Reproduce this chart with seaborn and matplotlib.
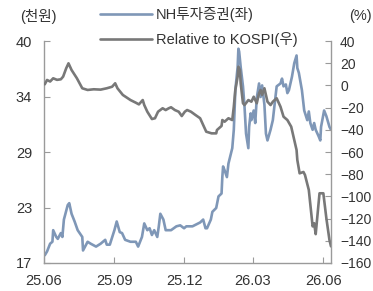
import matplotlib
matplotlib.use("Agg")
import matplotlib.pyplot as plt
import matplotlib.dates as mdates
import pandas as pd
import seaborn as sns

# NH투자증권 주가 (천원, 좌축)
nh_dates = ['2025-06-02', '2025-06-05', '2025-06-09', '2025-06-12', '2025-06-13', '2025-06-17',
            '2025-06-19', '2025-06-23', '2025-06-25', '2025-06-27', '2025-07-02', '2025-07-04',
            '2025-07-07', '2025-07-11', '2025-07-15', '2025-07-21', '2025-07-22', '2025-07-28',
            '2025-08-01', '2025-08-08', '2025-08-14', '2025-08-20', '2025-08-22', '2025-08-26',
            '2025-09-01', '2025-09-04', '2025-09-08', '2025-09-11', '2025-09-15', '2025-09-22',
            '2025-09-29', '2025-10-02', '2025-10-07', '2025-10-10', '2025-10-14', '2025-10-17',
            '2025-10-20', '2025-10-23', '2025-10-27', '2025-10-29', '2025-10-31', '2025-11-04',
            '2025-11-07', '2025-11-14', '2025-11-21', '2025-11-26', '2025-12-01', '2025-12-04',
            '2025-12-12', '2025-12-22', '2025-12-26', '2025-12-29', '2025-12-31', '2026-01-05',
            '2026-01-07', '2026-01-12', '2026-01-15', '2026-01-19', '2026-01-20', '2026-01-21',
            '2026-01-23', '2026-01-26', '2026-01-28', '2026-02-02', '2026-02-04', '2026-02-05',
            '2026-02-06', '2026-02-09', '2026-02-10', '2026-02-11', '2026-02-13', '2026-02-16',
            '2026-02-18', '2026-02-20', '2026-02-23', '2026-02-24', '2026-02-26', '2026-02-27',
            '2026-03-02', '2026-03-04', '2026-03-06', '2026-03-09', '2026-03-11', '2026-03-13',
            '2026-03-16', '2026-03-18', '2026-03-20', '2026-03-24', '2026-03-27', '2026-04-01',
            '2026-04-06', '2026-04-08', '2026-04-10', '2026-04-13', '2026-04-15', '2026-04-17',
            '2026-04-21', '2026-04-24', '2026-04-27', '2026-04-28', '2026-04-30', '2026-05-04',
            '2026-05-07', '2026-05-11', '2026-05-13', '2026-05-15', '2026-05-18', '2026-05-20',
            '2026-05-22', '2026-05-26', '2026-05-28', '2026-05-29', '2026-06-02', '2026-06-05',
            '2026-06-09', '2026-06-11']
nh_price = [17.8, 18.2, 19.0, 19.2, 20.4, 19.7,
            19.5, 20.1, 19.7, 21.5, 23.0, 23.2,
            22.1, 21.3, 20.4, 19.7, 18.3, 19.2,
            19.0, 18.7, 19.0, 19.4, 18.9, 18.9,
            20.4, 21.3, 20.2, 20.1, 19.4, 19.2,
            19.2, 18.7, 19.7, 21.1, 20.4, 20.6,
            19.9, 20.4, 19.7, 20.8, 22.1, 21.5,
            20.4, 20.4, 20.8, 20.9, 20.6, 20.8,
            20.8, 21.2, 21.5, 20.6, 20.6, 21.5,
            22.3, 22.7, 23.9, 24.2, 25.9, 27.0,
            26.6, 25.9, 27.3, 28.9, 30.8, 32.8,
            34.9, 37.3, 39.2, 38.9, 37.3, 35.3,
            33.2, 30.4, 28.9, 31.1, 32.5, 31.8,
            32.8, 31.5, 34.1, 35.6, 34.2, 35.4,
            33.4, 30.4, 29.7, 30.8, 31.8, 35.3,
            35.6, 36.1, 35.3, 35.5, 34.6, 34.9,
            36.3, 37.7, 38.5, 37.2, 36.7, 34.9,
            32.8, 31.8, 32.7, 31.5, 30.8, 31.5,
            30.8, 30.1, 29.7, 31.1, 32.8, 32.2,
            31.1, 30.8]

# Relative to KOSPI (%, 우축)
rel_dates = ['2025-06-02', '2025-06-05', '2025-06-09', '2025-06-13', '2025-06-18', '2025-06-23',
             '2025-06-26', '2025-06-30', '2025-07-03', '2025-07-07', '2025-07-14', '2025-07-21',
             '2025-07-28', '2025-08-05', '2025-08-14', '2025-08-22', '2025-08-29', '2025-09-02',
             '2025-09-05', '2025-09-12', '2025-09-22', '2025-09-29', '2025-10-03', '2025-10-08',
             '2025-10-10', '2025-10-14', '2025-10-20', '2025-10-24', '2025-10-28', '2025-11-03',
             '2025-11-07', '2025-11-11', '2025-11-14', '2025-11-19', '2025-11-24', '2025-11-28',
             '2025-12-02', '2025-12-05', '2025-12-10', '2025-12-16', '2025-12-22', '2025-12-26',
             '2025-12-30', '2026-01-06', '2026-01-12', '2026-01-13', '2026-01-19', '2026-01-20',
             '2026-01-23', '2026-01-28', '2026-02-02', '2026-02-04', '2026-02-06', '2026-02-09',
             '2026-02-10', '2026-02-12', '2026-02-13', '2026-02-16', '2026-02-18', '2026-02-23',
             '2026-02-27', '2026-03-02', '2026-03-06', '2026-03-09', '2026-03-11', '2026-03-13',
             '2026-03-16', '2026-03-20', '2026-03-24', '2026-03-27', '2026-04-01', '2026-04-06',
             '2026-04-10', '2026-04-15', '2026-04-20', '2026-04-23', '2026-04-27', '2026-04-28',
             '2026-05-01', '2026-05-06', '2026-05-08', '2026-05-13', '2026-05-18', '2026-05-20',
             '2026-05-22', '2026-05-27', '2026-06-01', '2026-06-05', '2026-06-09', '2026-06-11']
rel_kospi = [1.0, 4.9, 3.5, 6.4, 5.0, 5.5,
             7.9, 15.4, 19.9, 13.9, 6.4, -2.6,
             -4.1, -3.5, -3.8, -2.6, -1.2, 1.9,
             -2.6, -8.6, -13.2, -15.6, -17.1, -13.2,
             -17.7, -23.7, -30.3, -29.6, -23.7, -20.6,
             -22.2, -20.6, -19.7, -22.2, -23.7, -27.6,
             -23.7, -22.2, -23.7, -26.7, -29.6, -35.7,
             -41.7, -43.2, -43.2, -40.2, -36.5, -31.2,
             -32.7, -29.6, -31.2, -19.2, -4.1, 7.8,
             16.8, 13.9, 1.9, -16.1, -17.7, -13.2,
             -14.7, -10.2, -16.1, -7.1, -4.1, -8.6,
             -2.6, -14.7, -17.7, -14.7, -11.6, -19.2,
             -28.2, -31.2, -37.2, -46.2, -58.2, -67.2,
             -79.2, -78.0, -80.7, -94.2, -127.0, -124.2,
             -134.0, -97.2, -97.2, -120.0, -139.3, -145.0]

left_ticks = [17, 22.75, 28.5, 34.25, 40]
left_tick_labels = ['17', '23', '29', '34', '40']
right_ticks = [40, 20, 0, -20, -40, -60, -80, -100, -120, -140, -160]
x_ticks = ['2025-06-01', '2025-09-01', '2025-12-01', '2026-03-01', '2026-06-01']

blue = '#7f97b7'
gray = '#787878'
axis_col = '#9a9a9a'
text_col = '#333333'

sns.set_style('ticks')
plt.rcParams['font.family'] = ['Liberation Sans', 'Noto Sans CJK KR']
plt.rcParams['font.size'] = 10.5

nh = pd.DataFrame({'date': pd.to_datetime(nh_dates), 'price': nh_price})
rel = pd.DataFrame({'date': pd.to_datetime(rel_dates), 'rel': rel_kospi})

fig = plt.figure(figsize=(3.73, 2.91), dpi=100)
ax = fig.add_axes([44 / 373, 1 - 263 / 291, 287 / 373, 222 / 291])
ax2 = ax.twinx()

sns.lineplot(data=nh, x='date', y='price', ax=ax, color=blue, linewidth=1.9)
sns.lineplot(data=rel, x='date', y='rel', ax=ax2, color=gray, linewidth=1.9)

ax.set_xlim(nh['date'].min(), nh['date'].max())
ax.set_ylim(17, 40)
ax2.set_ylim(-160, 40)
ax.set_yticks(left_ticks)
ax.set_yticklabels(left_tick_labels)
ax2.set_yticks(right_ticks)
ax.set_xticks(pd.to_datetime(x_ticks))
ax.xaxis.set_major_formatter(mdates.DateFormatter('%y.%m'))
ax.set_xlabel('')
ax.set_ylabel('')
ax2.set_ylabel('')

for a in (ax, ax2):
    for side in ('left', 'right', 'bottom'):
        a.spines[side].set_color(axis_col)
        a.spines[side].set_linewidth(1.0)
    a.spines['top'].set_visible(False)
    a.tick_params(direction='in', length=4, width=0.8, color=axis_col,
                  labelcolor=text_col, labelsize=10.5)
ax.spines['right'].set_visible(False)
ax2.spines['left'].set_visible(False)
ax2.spines['bottom'].set_visible(False)
ax.tick_params(axis='y', pad=8.5)
ax.tick_params(axis='x', pad=8)
ax2.tick_params(axis='y', pad=6.5, labelsize=10)

handles = [ax.lines[0], ax2.lines[0]]
fig.legend(handles, ['NH투자증권(좌)', 'Relative to KOSPI(우)'], loc='upper left',
           bbox_to_anchor=(97 / 373, 1 - 4 / 291), frameon=False, fontsize=10.5,
           handlelength=3.6, handletextpad=0.25, labelspacing=0.7, labelcolor=text_col,
           borderaxespad=0, borderpad=0.2)

fig.text(38 / 373, 1 - 16 / 291, '(천원)', ha='center', va='center', fontsize=10.5, color=text_col)
fig.text(372 / 373, 1 - 16 / 291, '(%)', ha='right', va='center', fontsize=10.5, color=text_col)

fig.savefig('out.png', dpi=100)
